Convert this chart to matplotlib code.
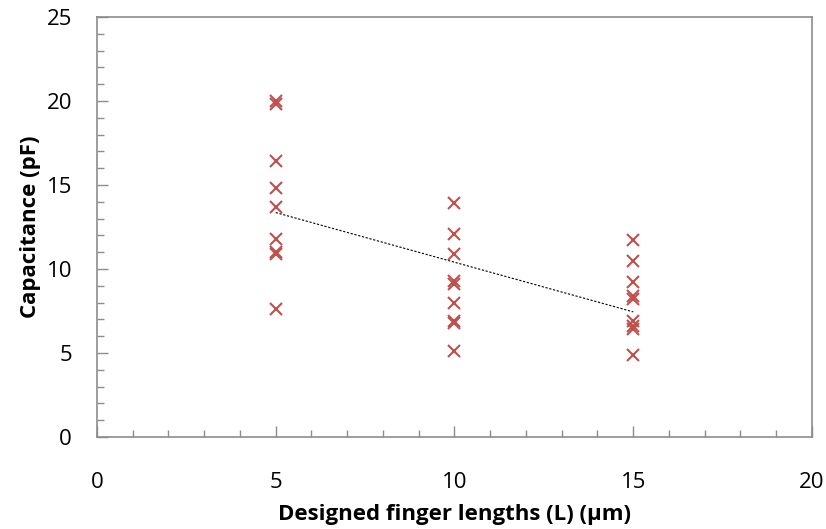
import numpy as np
import matplotlib.pyplot as plt
from matplotlib.ticker import MultipleLocator

plt.rcParams['font.family'] = ['Open Sans', 'DejaVu Sans']

# designed finger lengths (um) and measured capacitance (pF)
x5 = [5] * 9
c5 = [20.0, 19.8, 16.4, 14.8, 13.7, 11.8, 11.0, 10.9, 7.6]
x10 = [10] * 9
c10 = [13.9, 12.1, 10.9, 9.3, 9.1, 8.0, 6.9, 6.8, 5.1]
x15 = [15] * 9
c15 = [11.7, 10.5, 9.2, 8.4, 8.2, 6.9, 6.6, 6.4, 4.9]

xs = np.array(x5 + x10 + x15)
cs = np.array(c5 + c10 + c15)

fig = plt.figure(figsize=(8.26, 5.29), dpi=100)
ax = fig.add_axes([0.1174, 0.1739, 0.8656, 0.794])

ax.plot(xs, cs, 'x', color='#C0504D', markersize=8, mew=1.5, zorder=3)

# linear trendline
k, b = np.polyfit(xs, cs, 1)
tx = np.array([xs.min(), xs.max()])
ax.plot(tx, k * tx + b, color='black', linestyle=(0, (2, 1.5)), linewidth=0.8)

ax.set_xlim(0, 20)
ax.set_ylim(0, 25)
ax.xaxis.set_major_locator(MultipleLocator(5))
ax.xaxis.set_minor_locator(MultipleLocator(1))
ax.yaxis.set_major_locator(MultipleLocator(5))
ax.yaxis.set_minor_locator(MultipleLocator(1))

gray = '#8C8C8C'
for s in ax.spines.values():
    s.set_color(gray)
    s.set_linewidth(1.2)
ax.tick_params(which='both', direction='in', color=gray, width=1, labelsize=16)
ax.tick_params(which='major', length=8)
ax.tick_params(which='minor', length=5)
ax.tick_params(axis='x', which='major', pad=25)
ax.tick_params(axis='y', which='major', pad=18)

ax.set_xlabel('Designed finger lengths (L) (µm)', fontsize=16, fontweight='bold', labelpad=8)
ax.set_ylabel('Capacitance (pF)', fontsize=16, fontweight='bold', labelpad=4)

fig.savefig('out.png', dpi=100)
